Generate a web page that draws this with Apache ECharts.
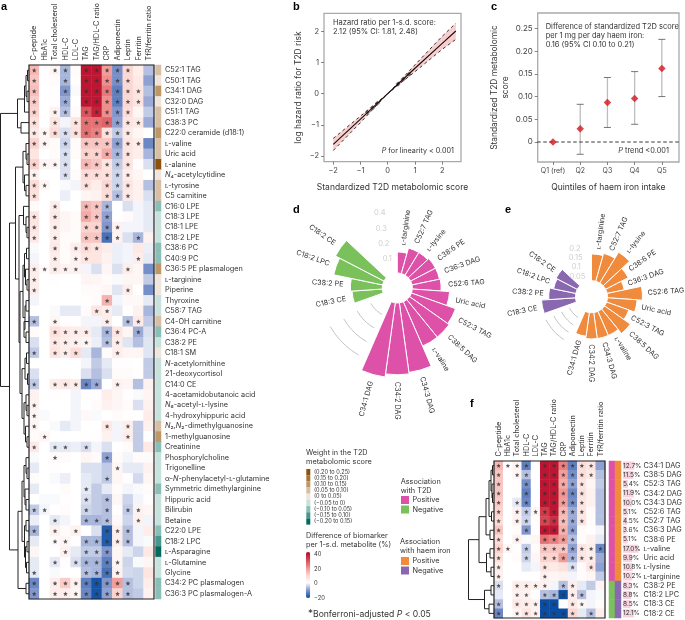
<!DOCTYPE html>
<html><head><meta charset="utf-8">
<style>html,body{margin:0;padding:0;background:#fff}#c{width:685px;height:620px}</style>
<script src="https://cdn.jsdelivr.net/npm/echarts@6/dist/echarts.min.js"></script>
</head><body><div id="c"></div>
<script>
const FONT='Inter';
const TXT='#333';
const biomarkers=['C-peptide','HbA1c','Total cholesterol','HDL-C','LDL-C','TAG','TAG/HDL-C ratio','CRP','Adiponectin','Leptin','Ferritin','TfR/ferritin ratio'];
const metabolitesA=['C52:1 TAG','C50:1 TAG','C34:1 DAG','C32:0 DAG','C51:1 TAG','C38:3 PC','C22:0 ceramide (d18:1)','ʟ-valine','Uric acid','ʟ-alanine','N₄-acetylcytidine','ʟ-tyrosine','C5 carnitine','C16:0 LPE','C18:3 LPE','C18:1 LPE','C18:2 LPE','C38:6 PC','C40:9 PC','C36:5 PE plasmalogen','ʟ-targinine','Piperine','Thyroxine','C58:7 TAG','C4-OH carnitine','C36:4 PC-A','C38:2 PE','C18:1 SM','N-acetylornithine','21-deoxycortisol','C14:0 CE','4-acetamidobutanoic acid','N₆-acetyl-ʟ-lysine','4-hydroxyhippuric acid','N₂,N₂-dimethylguanosine','1-methylguanosine','Creatinine','Phosphorylcholine','Trigonelline','α-N-phenylacetyl-ʟ-glutamine','Symmetric dimethylarginine','Hippuric acid','Bilirubin','Betaine','C22:0 LPE','C18:2 LPC','ʟ-Asparagine','ʟ-Glutamine','Glycine','C34:2 PC plasmalogen','C36:3 PC plasmalogen-A'];
const heatA=[
[14,.5,2,-7,1,38,38,18,-11,9,4,-6],
[12,.5,1,-7,.5,38,38,20,-11,9,5,-9],
[13,0,.5,-10,-.5,38,38,23,-13,9,6,-6],
[11,0,.5,-8,0,38,38,20,-13,9,6,-8],
[10,0,3,-6,1,28,36,20,-10,8,2,-5],
[7,0,6,-1,6,24,24,26,-9,6,5,-8],
[5,2,8,-3,7,24,22,7,-5,5,2,.5],
[10,2,1,-4,1,12,12,12,-9,6,4,-12],
[6,0,1,-3,1,10,10,16,-7,6,4,-7],
[10,2,2,-3,0,14,12,6,-5,6,.5,-3],
[3,0,0,-3,1,8,8,7,-4,4,2,0],
[8,2,0,-.5,-1,7,4,9,-4,6,3,-6],
[7,0,0,-1.5,0,2,3,8,-6,5,3,-3],
[1,0,4,0,0,14,12,-7,0,-3,-1,-2],
[6,0,5,2,1,16,12,-9,0,1,-1,-2],
[6,0,4,2,1,10,10,-10,3,-1,-1,-2],
[5,0,4,1,1,12,12,-15,3,-3,-7,3],
[-.5,0,5,1,4,8,6,4,-1.5,-1,5,-1.5],
[-1,0,4,1,3,6,6,3,-1.5,-1,4,-2],
[4,1,4,3,3,-1,-3,2,-3,4,2,-11],
[4,0,.5,0,0,2.5,2,1,-.5,2,2,-5],
[4,0,0,0,0,1,1,2,-2.5,4,0,-11],
[-1,0,0,0,0,.5,1,15,-1,1.5,1.5,-2],
[0,0,-.5,-2,-2,1,6,4,-2,.5,3,-7],
[-6,0,2,.5,.5,-1,-1,4,0,-6,5,-5],
[1,0,7,5,4,4,-2,-7,6,2,-8,-3],
[-3,0,5,4,3,2,-1.5,-6,4,-2.5,-6,-2.5],
[-5,0,6,4,8,-2,-7,1,4,2,2,-2.5],
[0,0,0,0,0,-1,-5,-2,.5,.5,0,-5],
[-3,0,0,.5,0,-3,-6,-3,1,1,.5,-5],
[-5,0,4,5,4,-12,-8,0,3,2,-6,3],
[3,0,.5,0,-1,.5,.5,4,2,.5,-.5,2.5],
[3,0,0,0,-1,0,1,3,2,1,-3,3],
[2,-.5,0,0,-1,1.5,-.5,0,1,.5,0,4.5],
[2,0,-.5,-2,-1,0,0,5,-1,4,-5,3],
[1,2,0,0,0,.5,.5,3,-1,4,-5,0],
[5,0,-2,-2,-1.5,-3,-1,-3,0,1,-5,5],
[-.5,0,1,1,0,2,1,-9,1,-1,1,1],
[-2,0,.5,0,0,-3,-3,-5,2,-2,-2,3],
[1,0,-.5,-1.5,0,-2,-3,-5,2,.5,-3.5,2],
[-2,0,0,1,0,-2,-5,-2,1,-1,-.5,1],
[0,-.5,-.5,.5,0,-3,-5,-6,2,-4,-1,.5],
[-5,-1,0,1,0,-4,-5,-6,.5,-5,3,2],
[-1.5,0,-2,-1,0,-7,-7,-6,1.5,-4,3,-1],
[-7,0,3,1,3,0,-3,-18,4,-6,-1,4],
[-2,0,1,2,.5,-7,-7,-18,4,-6,-1,-.5],
[2,0,0,3,-2,-5,-5,-10,2,-2,-4,5],
[-2,0,-2,.5,-3,-7,-7,-13,2,-4,-.5,2],
[-2,0,-.5,0,0,-6,-7,-15,3,-3.5,-4,6],
[-12,0,4,11,3,-13,-19,-10,18,-6,-4,4],
[-10,0,4,4,2,-12,-19,-9,10,-6,-5,3]];
const starsA=['x.xx.xxxxx..','x..x.xxxxx..','x..x.xxxxxx.','x..x.xxxxxx.','x.xx.xxxxx..','x.x.xxxxxxx.','xxxxxxxxxx..','xx.x.xxxxxx.','...x.xxxxx..','xxxx.xxxxx..','x..x.xxxxx..','xx...x.xxx..','x......xxx..','..x..xxx....','x.x..xxx....','x.x..xxxx...','x.x..xxxx.x.','..x.xxx.....','..x.xx....x.','xxxxx....x..','x...........','x........x..','.......x....','......xx....','x.x....x.xx.','..xxxx.xx.x.','..xxxx.xx...','x.xxx...x...','............','............','x.xxxxx.x...','............','x...........','x...........','x......x.x..','.x.......x..','x.xx.x......','..x....x....','........x...','.......x....','.....x......','.....x.x....','xx...x.x.xx.','..x..xxx..x.','x.x.x..xxx..','..xx.xxxxx..','...x.xxx....','..x.xxxxx...','x....xxxx...','x.xxxxxxxx..','x.xxxxxxxx..'];
const weightsA=[.07,.03,.13,.04,.07,.08,.12,.07,.07,.22,.03,.07,.07,-.08,-.03,-.03,-.03,-.08,-.08,.12,.03,.03,-.03,-.03,.08,-.08,-.03,.03,-.03,-.03,-.03,-.03,-.03,-.03,.08,.12,-.08,-.03,-.03,-.03,-.08,-.03,-.03,-.03,-.08,-.12,-.18,-.03,-.03,-.08,-.08];
const treeA=[28.5,[11.5,[4.5,[3,[1.5,0,1],[2,2,3]],4],[8,5,6]],[19.5,[13.5,[6,[3,7,[2,8,9]],[4.5,10,[3,11,12]]],[10,[5.5,13,[3,14,[2,15,16]]],[9,[6,[4.5,[2.5,17,18],[3.5,19,[2,20,21]]],[4,[3,22,23],[5,24,[3,25,26]]]],[7,[4,[2.5,27,28],[1.5,29,30]],[5,[3,31,[2,32,33]],[3.5,34,[2,35,36]]]]]]],[11,[7,[5,[3,37,[2,38,39]],[4,40,[3,41,42]]],[4.5,[3,43,44],[3.5,[2,45,46],[2.5,47,48]]]],[3,49,50]]]];
const metabolitesF=['C34:1 DAG','C38:5 DAG','C52:3 TAG','C34:2 DAG','C34:3 DAG','C52:6 TAG','C52:7 TAG','C36:3 DAG','C38:6 PE','ʟ-valine','Uric acid','ʟ-lysine','ʟ-targinine','C38:2 PE','C18:2 LPC','C18:3 CE','C18:2 CE'];
const heatF=[
[14,.5,2,-13,0,38,38,22,-13,8,6,-9],
[12,0,2,-6,0,38,38,18,-11,8,5,-6],
[12,0,.5,-11,0,38,38,16,-9,6,2,-5],
[12,0,.5,-13,0,38,38,19,-12,7,3,-6],
[11,0,-2,-12,0,38,38,18,-11,6,3,-6],
[10,0,3,-5,2,32,38,14,-8,6,1,-6],
[8,0,3,-4,.5,30,34,13,-8,6,1,-6],
[12,0,1,-10,0,38,38,15,-9,1,.5,-1],
[8,0,3,-.5,2,24,22,18,-6,1,3,-2],
[10,2,.5,-5,1,12,12,12,-9,6,4,-12],
[7,0,1,-4,2,10,10,18,-7,6,4,-8],
[4,0,0,-2,-1,6,5,7,-3,1,6,-9],
[3,0,0,0,0,3,2,3,-1,1,2,-5],
[-3,0,4,4,3,3,-1,-6,4,-2,-5,2.5],
[-2,0,3,3,.5,-6,-7,-20,4,-6,-1,-.5],
[-6,0,5,4,3,-20,-20,0,5,2,-1,1],
[-12,0,2,6,3,-20,-20,-20,9,-2,-6,4]];
const starsF=['xxxx.xxxxxx.','x.xx.xxxxxx.','x..x.xxxxx..','x..x.xxxxx..','x.xx.xxxxx..','x.xxxxxxxx..','x.xx.xxxxx..','x..x.xxxx...','x.x..xxxx...','xx.x.xxxxxxx','x..x.xxxxxx.','x....x..x.x.','x....x......','x.xxxx.xx...','..xx.xxxxx..','x.xxxxx.xx..','x.xxxxxxx.x.'];
const pctF=[12.7,11.5,5.4,11.9,10.0,5.1,4.5,3.6,5.1,17.0,9.9,10.8,10.2,8.3,8.8,8.5,12.1];
const t2dSignF=[1,1,1,1,1,1,1,1,1,1,1,1,1,-1,-1,-1,-1];
const ironSignF=[1,1,1,1,1,1,1,1,1,1,1,1,1,-1,-1,-1,-1];
const treeF=[25.5,[15,[8,[5,[3,[1.5,0,1],[2,2,[1.5,3,4]]],[2.5,5,6]],[4,7,8]],[7.5,[4,9,10],[3,11,12]]],[9.5,[3,13,14],[5,15,16]]];
const bX=[-2,-1,-.5,0,.5,1,2,2.5];
const bFit=[-1.63,-.82,-.41,0,.41,.82,1.62,2.02];
const bUp=[-1.44,-.72,-.36,0,.46,.93,1.85,2.27];
const bLow=[-1.83,-.93,-.46,0,.36,.71,1.43,1.75];
const bPtX=[-.75,-.55,-.38,.38,.58,.78];
const bPtY=[-.6,-.45,-.31,.31,.47,.63];
const axisTicksB=[-2,-1,0,1,2];
const quintiles=['Q1 (ref)','Q2','Q3','Q4','Q5'];
const cMean=[0,.029,.087,.096,.162];
const cLow=[0,-.027,.032,.039,.10];
const cHigh=[0,.083,.142,.155,.226];
const cTicks=[0,.05,.10,.15,.20,.25];
const polarNames=['ʟ-targinine','C52:7 TAG','ʟ-lysine','C38:6 PE','C36:3 DAG','C52:6 TAG','Uric acid','C52:3 TAG','C38:5 DAG','ʟ-valine','C34:3 DAG','C34:2 DAG','C34:1 DAG','','','','C18:3 CE','C38:2 PE','C18:2 LPC','C18:2 CE','','',''];
const dValues=[.135,.17,.17,.18,.18,.185,.24,.30,.31,.31,.45,.46,.48,null,null,null,.195,.205,.32,.35,null,null,null];
const eValues=[.153,.166,.206,.145,.10,.20,.17,.135,.18,.15,.15,.15,.137,null,null,null,.195,.153,.13,.137,null,null,null];
const dTicks=[.1,.2,.3,.4];
const eTicks=[.05,.1,.15,.2];
const weightLabels=['(0.20 to 0.25)','(0.15 to 0.20)','(0.10 to 0.15)','(0.05 to 0.10)','(0 to 0.05)','(−0.05 to 0)','(−0.10 to 0.05)','(−0.15 to 0.10)','(−0.20 to 0.15)'];
const weightColors=['#8c510a','#a9743a','#bf9766','#d8bea3','#efe5dc','#c7e2dc','#8abfb7','#46978e','#04695f'];
const heatColors=['#0a4da3','#8396cc','#ffffff','#fbd4cf','#ee8f8d','#d64652','#b50a2a'];
const MAG='#dd52a8',GRN='#7bc15b',ORG='#f08a3c',PUR='#8a68b0';

function heatData(m){const o=[];m.forEach((r,y)=>r.forEach((v,x)=>o.push([x,y,v])));return o;}
function starData(s){const o=[];s.forEach((r,y)=>[...r].forEach((c,x)=>{if(c==='x')o.push([x,y]);}));return o;}
function treeSegs(t){const segs=[];function w(n){if(typeof n==='number')return{h:0,y:n+.5};const a=w(n[1]),b=w(n[2]);
 segs.push([n[0],a.y,n[0],b.y],[a.h,a.y,n[0],a.y],[b.h,b.y,n[0],b.y]);return{h:n[0],y:(a.y+b.y)/2};}w(t);return segs;}
const STAR='path://M12 1.5l3.1 7.2 7.9.7-6 5.2 1.8 7.7L12 18.2 5.2 22.3 7 14.6 1 9.4l7.9-.7z';
function ital(v){return v.replace(/N(?=[₂₄₆,-])/g,'{i|N}');}
const RICH={i:{fontStyle:'italic',fontSize:7.3,fontFamily:FONT,color:TXT}};
function hidden(o){return Object.assign({show:false},o);}
function cat(data,o){return Object.assign({type:'category',data,axisLine:{show:false},axisTick:{show:false},splitLine:{show:false}},o);}
const segRender=(lw)=>(p,api)=>{const a=api.coord([api.value(0),api.value(1)]),b=api.coord([api.value(2),api.value(3)]);
 return{type:'line',shape:{x1:a[0],y1:a[1],x2:b[0],y2:b[1]},style:{stroke:'#222',lineWidth:lw}};};
function colNames(ax,fs){return{type:'custom',xAxisIndex:ax,yAxisIndex:ax,silent:true,clip:false,z:8,data:biomarkers.map((b,i)=>[i,0]),renderItem:(p,api)=>{
  const pt=api.coord([api.value(0),0]);
  return{type:'text',x:pt[0],y:p.coordSys.y-4.5,rotation:Math.PI/2,style:{text:biomarkers[api.value(0)],fontSize:fs,fontFamily:FONT,fill:TXT,align:'left',verticalAlign:'middle'}};}};}

const grids=[
 {left:29,top:65,width:125,height:534},      //0 heat a
 {left:155.5,top:65,width:5.5,height:534},   //1 strip a
 {left:0,top:65,width:29,height:534},        //2 tree a
 {left:324,top:13.3,width:137,height:148.4,show:true,borderColor:'#aaa',borderWidth:1.3}, //3 b
 {left:537.7,top:13,width:141.3,height:149,show:true,borderColor:'#aaa',borderWidth:1.3}, //4 c
 {left:494,top:461,width:111,height:157},    //5 heat f
 {left:609,top:461,width:12,height:157},     //6 strip f
 {left:623,top:461,width:22,height:157},     //7 pct f
 {left:468,top:461,width:26,height:157}      //8 tree f
];
const rowLabel={interval:0,fontSize:7.3,color:TXT,margin:4,fontFamily:FONT,formatter:ital,rich:RICH};
const tick=(vals)=>({show:true,customValues:vals,length:3,lineStyle:{color:'#666',width:.8}});
const noLine={show:false,onZero:false};
const axisB=(extra)=>Object.assign({axisLine:noLine,splitLine:{show:false}},extra);
const xAxis=[
 cat(biomarkers,{gridIndex:0,axisLabel:{show:false}}),
 cat(['w'],{gridIndex:1,axisLabel:{show:false}}),
 hidden({gridIndex:2,type:'value',min:0,max:29,inverse:true}),
 axisB({gridIndex:3,type:'value',position:'bottom',min:-2.34,max:2.69,name:'Standardized T2D metabolomic score',nameLocation:'middle',nameGap:21,nameTextStyle:{fontSize:8.5,color:TXT},
   axisLabel:{customValues:axisTicksB,fontSize:7.5,color:'#444',margin:5,formatter:v=>String(v).replace('-','−')},axisTick:tick(axisTicksB)}),
 axisB({gridIndex:4,type:'value',position:'bottom',min:.4375,max:5.63,name:'Quintiles of haem iron intake',nameLocation:'middle',nameGap:21,nameTextStyle:{fontSize:8.5,color:TXT},
   axisLabel:{customValues:[1,2,3,4,5],fontSize:7,color:'#444',margin:5,formatter:v=>quintiles[v-1]},axisTick:tick([1,2,3,4,5])}),
 cat(biomarkers,{gridIndex:5,axisLabel:{show:false}}),
 cat(['t','i'],{gridIndex:6,axisLabel:{show:false}}),
 hidden({gridIndex:7,type:'value',min:0,max:20}),
 hidden({gridIndex:8,type:'value',min:0,max:26,inverse:true})
];
const yAxis=[
 cat(metabolitesA,{gridIndex:0,inverse:true,axisLabel:{show:false}}),
 cat(metabolitesA,{gridIndex:1,inverse:true,position:'right',axisLabel:rowLabel}),
 hidden({gridIndex:2,type:'value',min:0,max:51,inverse:true}),
 axisB({gridIndex:3,type:'value',position:'left',min:-2.19,max:2.59,name:'log hazard ratio for T2D risk',nameLocation:'middle',nameGap:21,nameTextStyle:{fontSize:8.5,color:TXT},
   axisLabel:{customValues:axisTicksB,fontSize:7.5,color:'#444',margin:5,formatter:v=>String(v).replace('-','−')},axisTick:tick(axisTicksB)}),
 axisB({gridIndex:4,type:'value',position:'left',min:-.044,max:.284,name:'Standardized T2D metabolomic\nscore',nameLocation:'middle',nameGap:26,nameTextStyle:{fontSize:8.4,color:TXT,lineHeight:11.5},
   axisLabel:{customValues:cTicks,fontSize:8,color:'#444',margin:5,formatter:v=>v===0?'0':v.toFixed(2)},axisTick:tick(cTicks)}),
 cat(metabolitesF,{gridIndex:5,inverse:true,axisLabel:{show:false}}),
 cat(metabolitesF,{gridIndex:6,inverse:true,axisLabel:{show:false}}),
 cat(metabolitesF,{gridIndex:7,inverse:true,position:'right',axisLabel:Object.assign({},rowLabel,{margin:2.5})}),
 hidden({gridIndex:8,type:'value',min:0,max:17,inverse:true})
];
const slotAxis={type:'category',data:polarNames,startAngle:90,boundaryGap:true,axisLine:{show:false},axisTick:{show:false},axisLabel:{show:false},splitLine:{show:false}};
const valAngle={type:'value',min:0,max:360,startAngle:90,axisLine:{show:false},axisTick:{show:false},axisLabel:{show:false},splitLine:{show:false}};
const radAx=(i,m)=>({polarIndex:i,min:0,max:m,axisLine:{show:false},axisTick:{show:false},axisLabel:{show:false},splitLine:{show:false},splitArea:{show:false}});
const polar=[
 {center:[397.3,288],radius:[15,93]},{center:[397.3,288],radius:[15,93]},
 {center:[591.5,296.7],radius:[16,59.75]},{center:[591.5,296.7],radius:[16,59.75]}];

function polarBars(i,vals,c1,c2){return{type:'bar',coordinateSystem:'polar',polarIndex:i,barCategoryGap:'0%',silent:true,
  data:vals.map((v,k)=>({value:v,itemStyle:{color:k<13?c1:c2,borderColor:'#fff',borderWidth:1}}))};}
function polarLabels(i,vals,off){const d=[];vals.forEach((v,k)=>{if(v!=null)d.push([v+off,(k+.5)*360/23,k]);});
 return{type:'custom',coordinateSystem:'polar',polarIndex:i,silent:true,data:d,clip:false,renderItem:(p,api)=>{
  const th=api.value(1),pt=api.coord([api.value(0),th]),right=th<=180.5;
  const rot=(right?90-th:270-th)*Math.PI/180;
  return{type:'text',x:pt[0],y:pt[1],rotation:rot,style:{text:polarNames[api.value(2)],fontSize:7.2,fontFamily:FONT,fill:TXT,align:right?'left':'right',verticalAlign:'middle'}};}};}
function polarArcs(i,ticks,a0,a1){const steps=[0,.2,.4,.6,.8,1];return ticks.map(t=>({type:'line',coordinateSystem:'polar',polarIndex:i,showSymbol:false,symbol:'none',silent:true,
  lineStyle:{color:'#c4c4c4',width:1},data:steps.map(s=>[t,a0+(a1-a0)*s])}));}
function polarTicks(i,ticks,angles){return{type:'custom',coordinateSystem:'polar',polarIndex:i,silent:true,clip:false,data:ticks.map((t,k)=>[t,angles[k]]),renderItem:(p,api)=>{
  const pt=api.coord([api.value(0),api.value(1)]);return{type:'text',x:pt[0],y:pt[1],style:{text:String(api.value(0)),fontSize:7.5,fontFamily:FONT,fill:'#cfcfcf',align:'center',verticalAlign:'middle'}};}};}

const series=[
 {type:'heatmap',xAxisIndex:0,yAxisIndex:0,data:heatData(heatA),silent:true},  //0
 {type:'heatmap',xAxisIndex:5,yAxisIndex:5,data:heatData(heatF),silent:true},  //1
 {type:'heatmap',xAxisIndex:1,yAxisIndex:1,data:weightsA.map((v,i)=>[0,i,v]),silent:true}, //2
 {type:'scatter',xAxisIndex:0,yAxisIndex:0,data:starData(starsA),symbol:STAR,symbolSize:4.6,itemStyle:{color:'#333'},silent:true,z:5},
 {type:'scatter',xAxisIndex:5,yAxisIndex:5,data:starData(starsF),symbol:STAR,symbolSize:4.4,itemStyle:{color:'#333'},silent:true,z:5},
 colNames(0,7.3),colNames(5,7.3),
 {type:'custom',xAxisIndex:2,yAxisIndex:2,data:treeSegs(treeA),renderItem:segRender(1),clip:false,silent:true},
 {type:'custom',xAxisIndex:8,yAxisIndex:8,data:treeSegs(treeF),renderItem:segRender(1),clip:false,silent:true},
 // panel b
 {type:'custom',xAxisIndex:3,yAxisIndex:3,silent:true,data:[[0]],z:1,renderItem:(p,api)=>{
   const pts=bX.map((x,i)=>api.coord([x,bUp[i]])).concat(bX.map((x,i)=>api.coord([x,bLow[i]])).reverse());
   return{type:'polygon',shape:{points:pts},style:{fill:'#f8cdcd'}};}},
 {type:'line',xAxisIndex:3,yAxisIndex:3,data:bX.map((x,i)=>[x,bUp[i]]),symbol:'none',silent:true,lineStyle:{color:'#222',width:.9,type:[3,3]}},
 {type:'line',xAxisIndex:3,yAxisIndex:3,data:bX.map((x,i)=>[x,bLow[i]]),symbol:'none',silent:true,lineStyle:{color:'#222',width:.9,type:[3,3]}},
 {type:'line',xAxisIndex:3,yAxisIndex:3,data:bX.map((x,i)=>[x,bFit[i]]),symbol:'none',silent:true,lineStyle:{color:'#1a0a0a',width:1.1}},
 {type:'scatter',xAxisIndex:3,yAxisIndex:3,data:bPtX.map((x,i)=>[x,bPtY[i]]),symbol:'diamond',symbolSize:5,silent:true,itemStyle:{color:'#555'}},
 // panel c
 {type:'line',xAxisIndex:4,yAxisIndex:4,data:[[.2,0],[5.85,0]],symbol:'none',clip:false,silent:true,lineStyle:{color:'#222',width:.9,type:[3.5,2.5]}},
 {type:'custom',xAxisIndex:4,yAxisIndex:4,silent:true,data:quintiles.map((q,i)=>[i+1,cLow[i],cHigh[i]]).slice(1),renderItem:(p,api)=>{
   const x=api.value(0),a=api.coord([x,api.value(1)]),b=api.coord([x,api.value(2)]);
   const cap=(q)=>({type:'line',shape:{x1:q[0]-3.5,y1:q[1],x2:q[0]+3.5,y2:q[1]},style:{stroke:'#666',lineWidth:.9}});
   return{type:'group',children:[{type:'line',shape:{x1:a[0],y1:a[1],x2:b[0],y2:b[1]},style:{stroke:'#bdbdbd',lineWidth:1.3}},cap(a),cap(b)]};}},
 {type:'scatter',xAxisIndex:4,yAxisIndex:4,data:cMean.map((v,i)=>[i+1,v]),symbol:'diamond',symbolSize:7.5,silent:true,itemStyle:{color:'#d7141e'},z:5},
 // panel f strips and bars
 {type:'heatmap',xAxisIndex:6,yAxisIndex:6,silent:true,data:t2dSignF.map((s,i)=>({value:[0,i,s],itemStyle:{color:s>0?MAG:GRN}})).concat(ironSignF.map((s,i)=>({value:[1,i,s],itemStyle:{color:s>0?ORG:PUR}})))},
 {type:'bar',xAxisIndex:7,yAxisIndex:7,data:pctF,barWidth:'88%',silent:true,itemStyle:{color:'#f7d2df'},
  label:{show:true,position:'insideLeft',distance:0,padding:0,fontSize:6.5,color:TXT,fontFamily:FONT,formatter:p=>p.value.toFixed(1)+'%'}},
 // polar d,e
 polarBars(0,dValues,MAG,GRN),
 polarLabels(1,dValues,.045),
 ...polarArcs(1,dTicks,210,240),
 polarTicks(1,dTicks,[341,343,345,347]),
 polarBars(2,eValues,ORG,PUR),
 polarLabels(3,eValues,.03),
 ...polarArcs(3,eTicks,213,243),
 polarTicks(3,eTicks,[325,333,338,341])
];
const T=(x,y,text,fs,o)=>({type:'text',x,y,z:50,style:Object.assign({text,fontSize:fs,fontFamily:FONT,fill:TXT,align:'left',verticalAlign:'middle'},o||{})});
const R=(x,y,w,h,fill)=>({type:'rect',z:50,shape:{x,y,width:w,height:h},style:{fill}});
const frame=(x,y,w,h)=>({type:'rect',z:60,shape:{x,y,width:w,height:h},style:{fill:null,stroke:'#222',lineWidth:1.2}});
const bold={fontWeight:'bold',fill:'#000',fontFamily:'Liberation Sans'};
const ri=(fs)=>({rich:{i:{fontStyle:'italic',fontSize:fs,fontFamily:FONT,fill:TXT}}});
const graphic=[
 frame(29,65,125,534),frame(494,461,111,157),
 T(1,7,'a',11,bold),T(293,7,'b',11,bold),T(491,7,'c',11,bold),T(293,210,'d',11,bold),T(505,210,'e',11,bold),T(470,404,'f',11,bold),
 T(333,23,'Hazard ratio per 1-s.d. score:',7.5),T(333,32,'2.12 (95% CI: 1.81, 2.48)',7.5),
 T(454,151,'{i|P} for linearity < 0.001',7.2,Object.assign({align:'right'},ri(7.2))),
 T(545.7,27,'Difference of standardized T2D score',7.5),T(545.7,36,'per 1 mg per day haem iron:',7.5),T(545.7,45,'0.16 (95% CI 0.10 to 0.21)',7.5),
 T(669,151,'{i|P} trend <0.001',7.4,Object.assign({align:'right'},ri(7.4))),
 T(306,453,'Weight in the T2D',7.3),T(306,462,'metabolomic score',7.3),
 ...weightColors.map((c,i)=>R(306.3,469+i*6.18,4,6.18,c)),
 ...weightLabels.map((t,i)=>T(314,472+i*6.18,t,5.6)),
 T(306,536,'Difference of biomarker',7.3),T(306,545,'per 1-s.d. metabolite (%)',7.3),
 ...[['40',554],['20',569],['0',583.5],['−20',598]].map(a=>T(314,a[1],a[0],5.8)),
 T(400.7,482,'Association',7.3),T(400.7,491,'with T2D',7.3),
 R(401,496,8,8,MAG),T(412.5,500,'Positive',7.3),R(401,505.5,8,8,GRN),T(412.5,509.5,'Negative',7.3),
 T(400,541.5,'Association',7.3),T(400,550.5,'with haem iron',7.3),
 R(401,557,8,8,ORG),T(412.5,561,'Positive',7.3),R(401,566.5,8,8,PUR),T(412.5,570.5,'Negative',7.3),
 T(308,614,'{s|*}Bonferroni-adjusted {i|P} < 0.05',8.6,{rich:{i:{fontStyle:'italic',fontSize:8.6,fontFamily:FONT,fill:TXT},s:{fontSize:10,fontFamily:FONT,fill:TXT,verticalAlign:'top'}}})
];
const pieces=[[.2,.25],[.15,.2],[.1,.15],[.05,.1],[0,.05],[-.05,0],[-.1,-.05],[-.15,-.1],[-.2,-.15]].map((r,i)=>({gte:r[0],lt:r[1],color:weightColors[i]}));
const option={animation:false,backgroundColor:'#fff',textStyle:{fontFamily:FONT},grid:grids,xAxis,yAxis,polar,
 angleAxis:[Object.assign({polarIndex:0},slotAxis),Object.assign({polarIndex:1},valAngle),Object.assign({polarIndex:2},slotAxis),Object.assign({polarIndex:3},valAngle)],
 radiusAxis:[radAx(0,.5),radAx(1,.5),radAx(2,.25),radAx(3,.25)],
 visualMap:[
  {type:'continuous',seriesIndex:[0,1],dimension:2,min:-20,max:40,show:true,left:306,top:552,itemWidth:4.2,itemHeight:46,text:null,showLabel:false,calculable:false,padding:0,hoverLink:false,inRange:{color:heatColors}},
  {type:'piecewise',seriesIndex:[2],dimension:2,show:false,pieces}
 ],
 series,graphic};
const chart=echarts.init(document.getElementById('c'),null,{renderer:'canvas',width:685,height:620});
chart.setOption(option);
</script></body></html>
